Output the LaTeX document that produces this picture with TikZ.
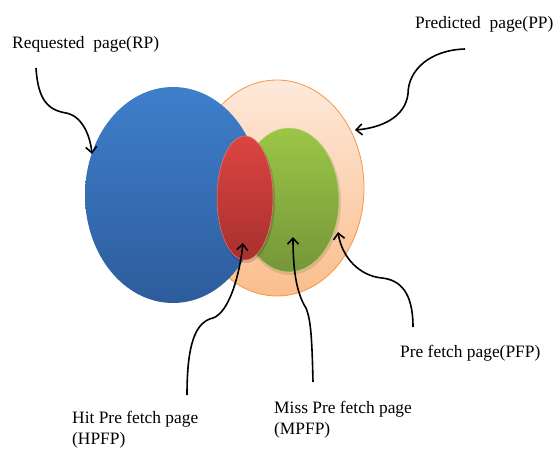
\documentclass[tikz,border=0pt]{standalone}
\usepackage{fontspec}
\setmainfont{Liberation Serif}
\usetikzlibrary{shapes.geometric,arrows.meta}
\definecolor{blueT}{HTML}{3E7FCB}
\definecolor{blueB}{HTML}{2D5C9C}
\definecolor{orT}{HTML}{FDE9DB}
\definecolor{orB}{HTML}{FBBE8C}
\definecolor{orL}{HTML}{F79646}
\definecolor{grT}{HTML}{9CC646}
\definecolor{grB}{HTML}{75963A}
\definecolor{rdT}{HTML}{DB4542}
\definecolor{rdB}{HTML}{A8302E}
\tikzset{
  blob/.style={ellipse, inner sep=0pt},
  lbl/.style={font=\fontsize{17.4}{21}\selectfont, inner sep=0pt, align=left},
  pointer/.style={line width=1.6pt, -{Straight Barb[length=6pt,width=11pt,line width=1.6pt]}}
}
\begin{document}
\begin{tikzpicture}[x=1pt,y=-1pt]
\useasboundingbox (0,0) rectangle (557,449);
% shapes
\node[blob, draw=orL, line width=0.8pt, top color=orT, bottom color=orB,
      minimum width=174pt, minimum height=216pt] (pp) at (277,188) {};
\node[blob, top color=blueT, bottom color=blueB,
      minimum width=176pt, minimum height=216pt] (rp) at (173,195) {};
\node[blob, fill=black, opacity=0.1, minimum width=102pt, minimum height=146pt] (pfpsh) at (290,202) {};
\node[blob, top color=grT, bottom color=grB, draw=grT!70!white, line width=0.5pt,
      minimum width=100pt, minimum height=144pt] (pfp) at (289,200) {};
\node[blob, fill=black, opacity=0.15, minimum width=58pt, minimum height=126pt] (hsh) at (246,200) {};
\node[blob, top color=rdT, bottom color=rdB, draw=rdT!70!white, line width=0.5pt,
      minimum width=56pt, minimum height=124pt] (hpfp) at (245,198) {};
% labels
\node[lbl, anchor=west] (trp) at (12,44) {Requested\ \ page(RP)};
\node[lbl, anchor=west] (tpp) at (415,24) {Predicted\ \ page(PP)};
\node[lbl, anchor=west] (tpfp) at (400,353) {Pre fetch page(PFP)};
\node[lbl, anchor=north west] (thpfp) at (72,411) {Hit Pre fetch page\\(HPFP)};
\node[lbl, anchor=north west] (tmpfp) at (274,401) {Miss Pre fetch page\\(MPFP)};
% connector ends
\coordinate (s1) at (36,68);
\coordinate (e1) at (92,154);
\coordinate (s2) at (465,49);
\coordinate (e2) at (355,130);
\coordinate (s3) at (413,327);
\coordinate (e3) at (338,232);
\coordinate (s4) at (313,382);
\coordinate (e4) at (293,237);
\coordinate (s5) at (187,395);
\coordinate (e5) at (243,243);
% connectors
\draw[pointer] (s1) .. controls (38,100) and (48,110) .. (66,113)
               .. controls (82,116) and (90,135) .. (e1);
\draw[pointer] (s2) .. controls (430,50) and (408,70) .. (408,94)
               .. controls (405,118) and (380,128) .. (e2);
\draw[pointer] (s3) .. controls (413,292) and (400,280) .. (382,278)
               .. controls (360,276) and (342,258) .. (e3);
\draw[pointer] (s4) .. controls (312,340) and (311,320) .. (306,308)
               .. controls (297,294) and (293,272) .. (e4);
\draw[pointer] (s5) .. controls (187,345) and (195,322) .. (213,318)
               .. controls (230,312) and (240,272) .. (e5);
\end{tikzpicture}
\end{document}
